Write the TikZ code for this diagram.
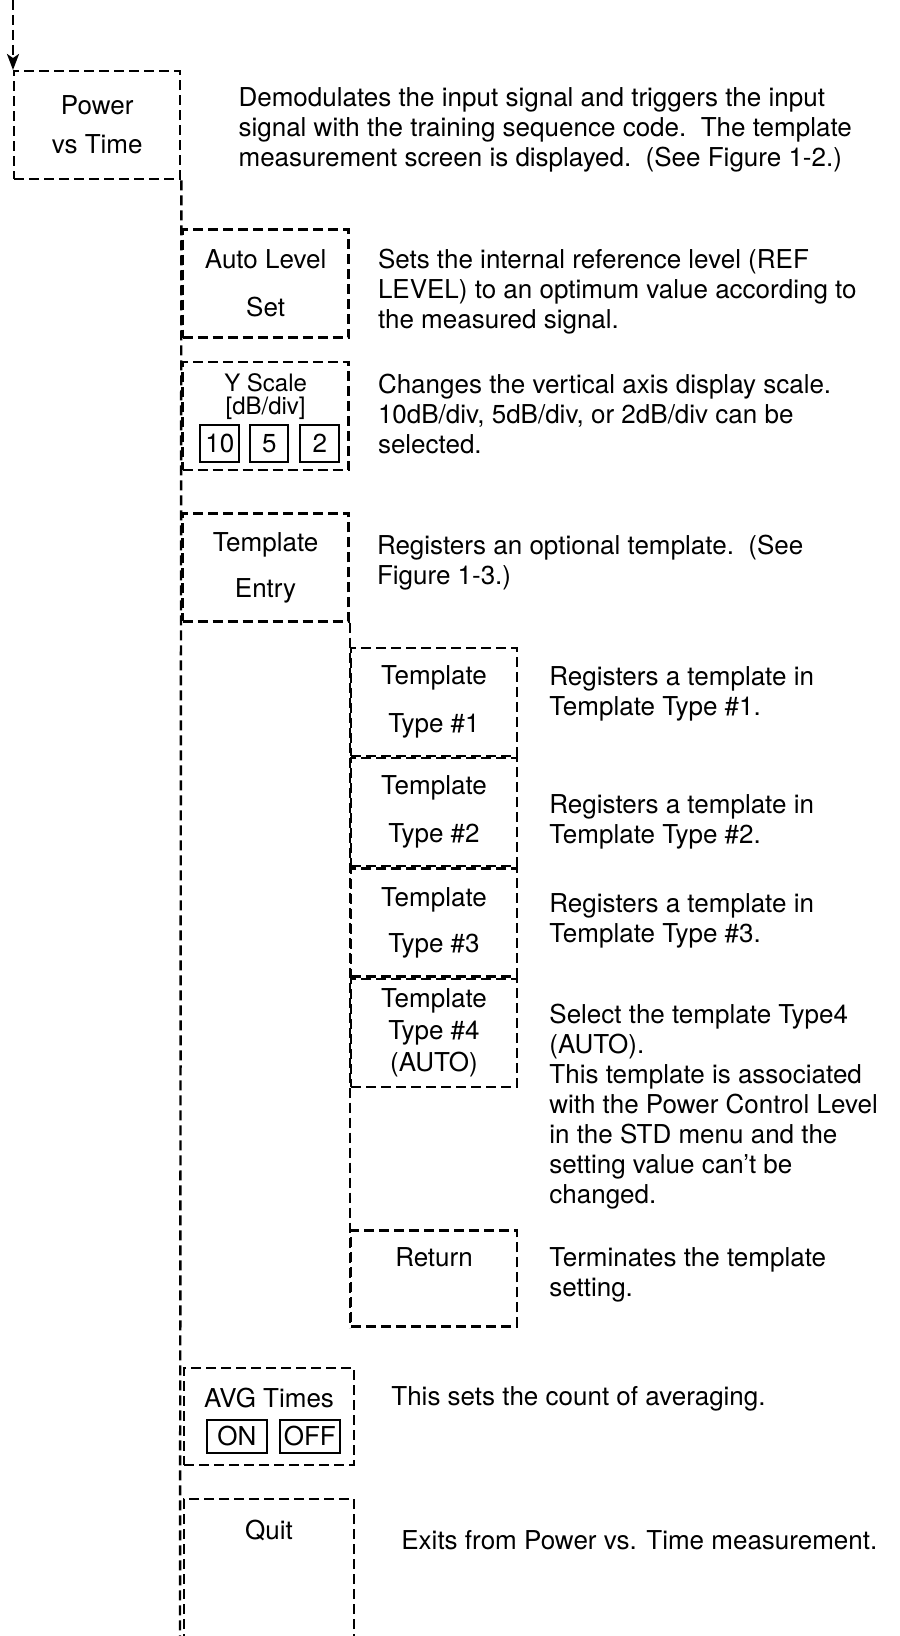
\documentclass[tikz,border=0pt]{standalone}
\usepackage{fontspec}
\setmainfont{TeX Gyre Heros}
\usetikzlibrary{positioning, arrows.meta}

\begin{document}
\begin{tikzpicture}[
  x=0.5pt, y=-0.5pt,
  line width=1.2pt,
  softkey/.style = {draw, dash pattern=on 5pt off 2.5pt, inner sep=0pt, align=center, font=\fontsize{13}{15}\selectfont, minimum width=83pt, minimum height=54pt},
  keycap/.style = {draw, solid, line width=1pt, inner sep=0pt, font=\fontsize{13}{15}\selectfont, minimum width=19.5pt, minimum height=18.5pt},
  caption/.style = {inner sep=0pt, font=\fontsize{13}{15}\selectfont},
  note/.style = {inner sep=0pt, align=left, font=\fontsize{13}{15}\selectfont},
  branch/.style = {dash pattern=on 5pt off 2.5pt},
]
\useasboundingbox (0,0) rectangle (899,1636);
\coordinate (entrytop) at (13,0);
\coordinate (bottom) at (180,1636);

\node[softkey, anchor=north west] (pvt) at (13,70) {Power\\[4.5pt]vs Time};
\node[softkey, below right=24pt and 0pt of pvt.south east] (autolvl) {Auto Level\\[9pt]Set};
\node[softkey, below right=11pt and 0pt of autolvl.south west] (yscale) {};
\node[softkey, below right=20.5pt and 0pt of yscale.south west] (entry) {Template\\[8pt]Entry};
\node[softkey, below right=12pt and 0pt of entry.south east] (type1) {Template\\[9pt]Type \#1};
\node[softkey, below right=0pt and 0pt of type1.south west] (type2) {Template\\[9pt]Type \#2};
\node[softkey, below right=0pt and 0pt of type2.south west] (type3) {Template\\[8pt]Type \#3};
\node[softkey, below right=0pt and 0pt of type3.south west] (type4) {Template\\[1pt]Type \#4\\[1pt](AUTO)};
\node[softkey, minimum height=48pt, below right=70.5pt and 0pt of type4.south west] (ret) {};
\node[softkey, minimum width=85pt, minimum height=48.5pt, below right=19.5pt and -83.5pt of ret.south west] (avg) {};
\node[softkey, minimum width=85pt, minimum height=100pt, below right=16pt and 0pt of avg.south west] (quit) {};

% texts inside the keys
\node[caption, font=\fontsize{12}{14}\selectfont, below=6pt of yscale.north] (yscl) {Y Scale};
\node[caption, font=\fontsize{12}{14}\selectfont, below=1pt of yscl] (dbdiv) {[dB/div]};
\node[keycap, above right=4pt and 9pt of yscale.south west] (k10) {10};
\node[keycap, minimum width=19pt, right=4.5pt of k10] (k5) {5};
\node[keycap, right=5pt of k5] (k2) {2};
\node[caption, below=8.5pt of ret.north] (retlbl) {Return};
\node[caption, below=10pt of avg.north] (avglbl) {AVG Times};
\node[keycap, minimum width=30pt, minimum height=16.5pt, above right=6pt and 11.5pt of avg.south west] (on) {ON};
\node[keycap, minimum width=30pt, minimum height=16.5pt, right=5.5pt of on] (off) {OFF};
\node[caption, below=10.5pt of quit.north] (quitlbl) {Quit};

% descriptions
\node[note, below right=8pt and 28pt of pvt.north east] (d1) {Demodulates the input signal and triggers the input\\signal with the training sequence code.\ \ The template\\measurement screen is displayed.\ \ (See Figure 1-2.)};
\node[note, below right=9.5pt and 13.5pt of autolvl.north east] (d2) {Sets the internal reference level (REF\\LEVEL) to an optimum value according to\\the measured signal.};
\node[note, below right=6pt and 13.5pt of yscale.north east] (d3) {Changes the vertical axis display scale.\\10dB/div, 5dB/div, or 2dB/div can be\\selected.};
\node[note, below right=11pt and 13pt of entry.north east] (d4) {Registers an optional template.\ \ (See\\Figure 1-3.)};
\node[note, below right=9.5pt and 15pt of type1.north east] (d5) {Registers a template in\\Template Type \#1.};
\node[note, below right=18pt and 15pt of type2.north east] (d6) {Registers a template in\\Template Type \#2.};
\node[note, below right=12.5pt and 15pt of type3.north east] (d7) {Registers a template in\\Template Type \#3.};
\node[note, below right=12.5pt and 15pt of type4.north east] (d8) {Select the template Type4\\(AUTO).\\This template is associated\\with the Power Control Level\\in the STD menu and the\\setting value can’t be\\changed.};
\node[note, below right=8.5pt and 15pt of ret.north east] (d9) {Terminates the template\\setting.};
\node[note, below right=9.5pt and 17.5pt of avg.north east] (d10) {This sets the count of averaging.};
\node[note, below right=15.5pt and 22.5pt of quit.north east] (d11) {Exits from Power vs. Time measurement.};

\draw[branch, -{Stealth[length=8pt, width=6pt, inset=2pt]}] (entrytop) -- (pvt.north west);
\draw[branch] (pvt.south east) -- (bottom);
\draw[branch] (entry.south east) -- (ret.south west);
\end{tikzpicture}
\end{document}
